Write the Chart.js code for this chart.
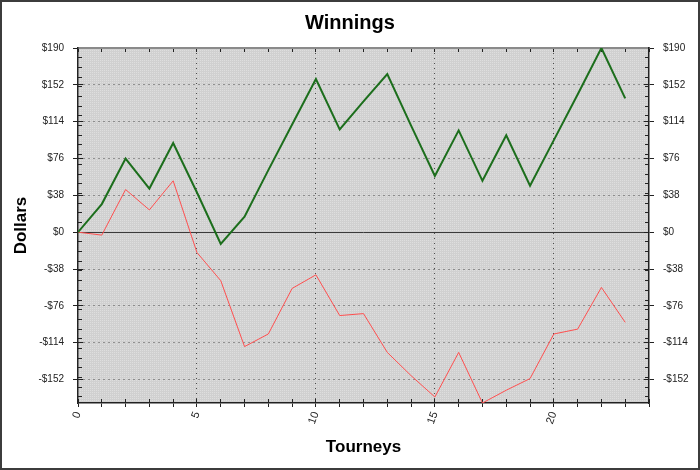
<!DOCTYPE html>
<html lang="en">
<head>
    <meta charset="UTF-8">
    <title>Winnings</title>
    <style>
        body {
            margin: 0;
            background: #ffffff;
        }
        .frame {
            width: 696px;
            height: 466px;
            border: 2px solid #3c3c3c;
        }
        canvas {
            display: block;
        }
    </style>
    <script src="https://cdn.jsdelivr.net/npm/chart.js"></script>
</head>
<body>
    <div class="frame">
        <canvas id="winChart" width="696" height="466"></canvas>
    </div>

    <script>
        // data
        const tourneys = [0, 1, 2, 3, 4, 5, 6, 7, 8, 9, 10, 11, 12, 13, 14, 15, 16, 17, 18, 19, 20, 21, 22, 23];
        const totalWinnings = [0, 29, 76, 45, 92, 41, -12, 16, 64, 111, 158, 106, 135, 163, 110, 58, 105, 53, 100, 48, 95, 142, 190, 138];
        const otherWinnings = [0, -3, 44, 23, 53, -21, -50, -118, -105, -58, -44, -86, -84, -124, -148, -170, -124, -176.2, -163, -151, -105, -100, -57, -93];

        const yTickValues = [-152, -114, -76, -38, 0, 38, 76, 114, 152, 190];
        const xTickLabels = [0, 5, 10, 15, 20];
        const xMax = 24;

        const yMin = Math.min(...otherWinnings, ...totalWinnings);
        const yMax = Math.max(...otherWinnings, ...totalWinnings);

        // minor tick positions
        const yMinorTicks = [];
        for (let v = -170; v <= 190; v += 10) yMinorTicks.push(v);
        const xMinorTicks = [];
        for (let v = 0; v <= xMax; v++) xMinorTicks.push(v);

        function money(v) {
            return v < 0 ? '-$' + Math.abs(v) : '$' + v;
        }

        function setTicks(list) {
            return function (scale) {
                scale.ticks = list.map(v => ({ value: v }));
            };
        }

        // tick-mark only axis (no labels, no grid on the plot)
        function markAxis(position, list, len, isX) {
            return {
                type: 'linear',
                position: position,
                min: isX ? 0 : yMin,
                max: isX ? xMax : yMax,
                weight: 0,
                afterBuildTicks: setTicks(list),
                afterFit: function (scale) {
                    if (isX) scale.height = 0; else scale.width = 0;
                },
                ticks: { display: false },
                grid: {
                    drawOnChartArea: false,
                    drawTicks: true,
                    tickLength: len,
                    tickColor: '#222222',
                    tickWidth: 1
                },
                border: { display: false }
            };
        }

        // dotted pattern behind the lines
        const plotBackground = {
            id: 'plotBackground',
            beforeDraw(chart) {
                const area = chart.chartArea;
                const ctx = chart.ctx;
                if (!this.pattern) {
                    const p = document.createElement('canvas');
                    p.width = 2;
                    p.height = 2;
                    const pc = p.getContext('2d');
                    pc.fillStyle = '#d0d0d0';
                    pc.fillRect(0, 0, 2, 2);
                    pc.fillStyle = '#dedede';
                    pc.fillRect(0, 0, 1, 1);
                    this.pattern = ctx.createPattern(p, 'repeat');
                }
                ctx.save();
                ctx.fillStyle = this.pattern;
                ctx.fillRect(area.left, area.top, area.right - area.left, area.bottom - area.top);
                ctx.restore();
            }
        };

        Chart.defaults.font.family = '"Liberation Sans", Arial, sans-serif';
        Chart.defaults.color = '#222222';

        const ctx = document.getElementById('winChart').getContext('2d');
        const chart = new Chart(ctx, {
            type: 'line',
            data: {
                datasets: [
                    {
                        label: 'Total',
                        data: tourneys.map((t, i) => ({ x: t, y: totalWinnings[i] })),
                        borderColor: '#1c6e1c',
                        borderWidth: 2,
                        pointRadius: 0,
                        tension: 0,
                        xAxisID: 'x',
                        yAxisID: 'y'
                    },
                    {
                        label: 'Other',
                        data: tourneys.map((t, i) => ({ x: t, y: otherWinnings[i] })),
                        borderColor: '#ff4f4f',
                        borderWidth: 1,
                        pointRadius: 0,
                        tension: 0,
                        xAxisID: 'x',
                        yAxisID: 'y'
                    }
                ]
            },
            options: {
                responsive: false,
                animation: false,
                devicePixelRatio: 1,
                layout: { padding: 0 },
                plugins: {
                    legend: { display: false },
                    tooltip: { enabled: false },
                    title: {
                        display: true,
                        text: 'Winnings',
                        color: '#000000',
                        font: { size: 20, weight: 'bold' },
                        padding: { top: 9.7, bottom: 12.3 }
                    }
                },
                scales: {
                    x: {
                        type: 'linear',
                        position: 'bottom',
                        min: 0,
                        max: xMax,
                        weight: 1,
                        afterBuildTicks: setTicks(xMinorTicks),
                        afterFit: function (scale) { scale.height = 65; },
                        grid: {
                            color: c => (c.tick && c.tick.value % 5 === 0 && c.tick.value > 0 && c.tick.value < xMax) ? '#4a4a4a' : 'rgba(0,0,0,0)',
                            lineWidth: 1,
                            drawTicks: true,
                            tickLength: 4,
                            tickColor: '#222222'
                        },
                        border: { display: true, color: '#222222', width: 1.5, dash: [1, 4] },
                        ticks: {
                            autoSkip: false,
                            minRotation: 70,
                            maxRotation: 70,
                            padding: 3,
                            font: { size: 11 },
                            callback: v => xTickLabels.includes(v) ? String(v) : ''
                        },
                        title: {
                            display: true,
                            text: 'Tourneys',
                            color: '#000000',
                            font: { size: 17, weight: 'bold' },
                            padding: { top: 0, bottom: 10.3 }
                        }
                    },
                    xIn: markAxis('bottom', xMinorTicks, -4, true),
                    xTop: Object.assign(markAxis('top', xMinorTicks, -4, true), {
                        border: { display: true, color: '#8a8a8a', width: 2 }
                    }),
                    y: {
                        type: 'linear',
                        position: 'left',
                        min: yMin,
                        max: yMax,
                        weight: 1,
                        afterBuildTicks: setTicks(yTickValues),
                        afterFit: function (scale) { scale.width = 76; },
                        grid: {
                            color: c => (c.tick && c.tick.value !== 0 && c.tick.value !== yMax) ? '#4a4a4a' : 'rgba(0,0,0,0)',
                            lineWidth: 1,
                            drawTicks: true,
                            tickLength: 5,
                            tickColor: '#222222'
                        },
                        border: { display: true, color: '#222222', width: 1.5, dash: [1, 4] },
                        ticks: {
                            padding: 9,
                            font: { size: 10 },
                            callback: v => money(v)
                        },
                        title: {
                            display: true,
                            text: 'Dollars',
                            color: '#000000',
                            font: { size: 17, weight: 'bold' },
                            padding: { top: 9.3, bottom: 0 }
                        }
                    },
                    yIn: markAxis('left', yTickValues, -5, false),
                    yMinor: markAxis('left', yMinorTicks, -4, false),
                    yZero: {
                        type: 'linear',
                        position: 'left',
                        min: yMin,
                        max: yMax,
                        weight: 0,
                        afterBuildTicks: setTicks([0]),
                        afterFit: function (scale) { scale.width = 0; },
                        ticks: { display: false },
                        grid: { color: '#3a3a3a', lineWidth: 1, drawTicks: false },
                        border: { display: false }
                    },
                    yR: {
                        type: 'linear',
                        position: 'right',
                        min: yMin,
                        max: yMax,
                        weight: 1,
                        afterBuildTicks: setTicks(yTickValues),
                        afterFit: function (scale) { scale.width = 49; },
                        grid: {
                            drawOnChartArea: false,
                            drawTicks: true,
                            tickLength: 5,
                            tickColor: '#222222'
                        },
                        border: { display: true, color: '#222222', width: 1.5 },
                        ticks: {
                            padding: 9,
                            font: { size: 10 },
                            callback: v => money(v)
                        }
                    },
                    yRIn: markAxis('right', yTickValues, -5, false),
                    yRMinor: markAxis('right', yMinorTicks, -4, false)
                }
            },
            plugins: [plotBackground]
        });
    </script>
</body>
</html>
